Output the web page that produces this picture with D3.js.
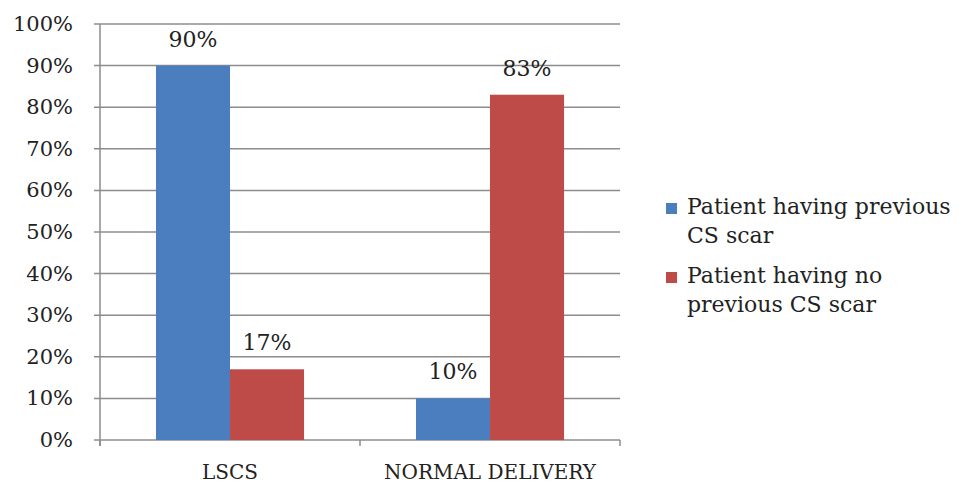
<!DOCTYPE html>
<html>
<head>
<meta charset="utf-8">
<script src="https://cdn.jsdelivr.net/npm/d3@7"></script>
<style>
  body { margin: 0; background: #fff; }
  text { font-family: "DejaVu Serif", "Liberation Serif", serif; fill: #222; }
</style>
</head>
<body>
<div class="container"></div>
<script>
// chart data
var categories = ["LSCS", "NORMAL DELIVERY"];
var series = ["Patient having previous CS scar", "Patient having no previous CS scar"];
var previousScar = [90, 10];
var noPreviousScar = [17, 83];
var yTicks = [0, 10, 20, 30, 40, 50, 60, 70, 80, 90, 100];
var colors = ["#4A7EBF", "#BF4B48"];
var legendLines = [["Patient having previous", "CS scar"], ["Patient having no", "previous CS scar"]];

var width = 968, height = 486;
var svg = d3.select(".container").append("svg")
  .attr("width", width).attr("height", height);

var x0 = d3.scaleBand().domain(categories).range([100, 620]).paddingInner(0).paddingOuter(0);
var x1 = d3.scaleBand().domain(series).range([0, x0.bandwidth()]).paddingInner(0).paddingOuter(0.756);
var y = d3.scaleLinear().domain([0, 100]).range([440, 24]);

// gridlines
svg.append("g").selectAll("line").data(yTicks).enter().append("line")
  .attr("x1", 94).attr("x2", 620)
  .attr("y1", function(d) { return y(d); }).attr("y2", function(d) { return y(d); })
  .attr("stroke", "#8c8c8c").attr("stroke-width", 1.5);

// y tick labels
svg.append("g").selectAll("text").data(yTicks).enter().append("text")
  .attr("x", 73).attr("y", function(d) { return y(d) + 7; })
  .attr("text-anchor", "end").style("font-size", "21px")
  .text(function(d) { return d + "%"; });

// y axis line
svg.append("line").attr("x1", 100).attr("x2", 100).attr("y1", 24).attr("y2", 446)
  .attr("stroke", "#8c8c8c").attr("stroke-width", 1.5);

// category ticks
var catTicks = [100, x0(categories[1]), 620];
svg.append("g").selectAll("line").data(catTicks).enter().append("line")
  .attr("x1", function(d) { return d; }).attr("x2", function(d) { return d; })
  .attr("y1", 440).attr("y2", 446)
  .attr("stroke", "#8c8c8c").attr("stroke-width", 1.5);

// bars
var rows = categories.map(function(c, i) {
  return { cat: c, vals: [previousScar[i], noPreviousScar[i]] };
});
var groups = svg.append("g").selectAll("g").data(rows).enter().append("g")
  .attr("transform", function(d) { return "translate(" + x0(d.cat) + ",0)"; });

groups.selectAll("rect").data(function(d) { return d.vals; }).enter().append("rect")
  .attr("x", function(d, i) { return x1(series[i]); })
  .attr("width", x1.bandwidth())
  .attr("y", function(d) { return y(d); })
  .attr("height", function(d) { return y(0) - y(d); })
  .attr("fill", function(d, i) { return colors[i]; });

groups.selectAll("text").data(function(d) { return d.vals; }).enter().append("text")
  .attr("x", function(d, i) { return x1(series[i]) + x1.bandwidth() / 2; })
  .attr("y", function(d) { return y(d) - 19; })
  .attr("text-anchor", "middle").style("font-size", "22px")
  .text(function(d) { return d + "%"; });

// category labels
svg.append("g").selectAll("text").data(categories).enter().append("text")
  .attr("x", function(d) { return x0(d) + x0.bandwidth() / 2; })
  .attr("y", 479)
  .attr("text-anchor", "middle").style("font-size", "20px")
  .text(function(d) { return d; });

// legend
var legend = svg.append("g").selectAll("g").data(legendLines).enter().append("g")
  .attr("transform", function(d, i) { return "translate(666," + (203 + i * 69) + ")"; });
legend.append("rect").attr("width", 11).attr("height", 11)
  .attr("fill", function(d, i) { return colors[i]; });
legend.append("text").attr("x", 21).attr("y", 11).style("font-size", "22px")
  .selectAll("tspan").data(function(d) { return d; }).enter().append("tspan")
  .attr("x", 21).attr("dy", function(d, i) { return i === 0 ? 0 : 29; })
  .text(function(d) { return d; });
</script>
</body>
</html>
